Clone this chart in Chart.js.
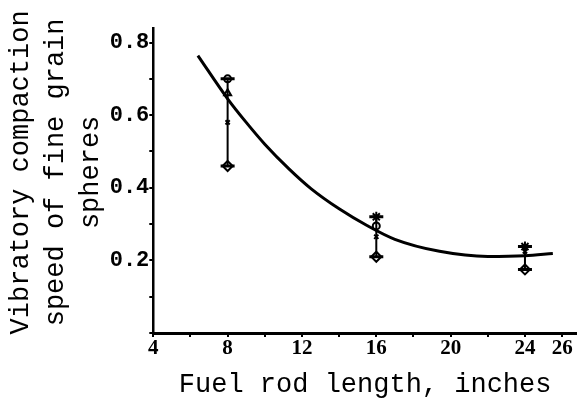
<!DOCTYPE html>
<html>
<head>
<meta charset="utf-8">
<script src="https://cdn.jsdelivr.net/npm/chart.js@4"></script>
<style>
  html, body { margin: 0; padding: 0; background: #fff; }
  #wrap { width: 577px; height: 401px; }
</style>
</head>
<body>
<div id="wrap"><canvas id="c" width="577" height="401"></canvas></div>
<script>
// Fitted curve
const curveX = [6.4, 8, 9, 10, 11.3, 12.5, 14, 15.5, 17, 19.4, 22, 24, 25.5];
const curveY = [0.764, 0.645, 0.58, 0.52, 0.452, 0.397, 0.342, 0.296, 0.258, 0.225, 0.211, 0.213, 0.219];

// Measured points
const barX    = [8, 16, 24];
const barLow  = [0.46, 0.21, 0.175];
const barHigh = [0.70, 0.32, 0.238];

const circleX = [8, 16];
const circleY = [0.70, 0.295];
const triX = [8];
const triY = [0.66];
const starX = [16, 24];
const starY = [0.32, 0.238];
const crossX = [8, 16, 24];
const crossY = [0.58, 0.265, 0.225];
const diamondX = [8, 16, 24];
const diamondY = [0.46, 0.21, 0.175];

const xLabels = [4, 8, 12, 16, 20, 24, 26];
const yLabels = [0.2, 0.4, 0.6, 0.8];

const pts = (xs, ys) => xs.map((x, i) => ({x: x, y: ys[i]}));

const markerBase = {
  type: 'scatter', showLine: false, borderColor: '#000', backgroundColor: '#fff',
  borderWidth: 2, pointRadius: 4
};

const datasets = [];
barX.forEach((x, i) => {
  datasets.push({
    type: 'line', data: [{x: x, y: barLow[i]}, {x: x, y: barHigh[i]}],
    borderColor: '#000', borderWidth: 2, pointRadius: 0, fill: false
  });
});
datasets.push({
  type: 'line', data: pts(curveX, curveY), borderColor: '#000', borderWidth: 3,
  pointRadius: 0, cubicInterpolationMode: 'monotone', fill: false
});
// error bar caps
datasets.push(Object.assign({}, markerBase, {
  data: pts(barX, barHigh).concat(pts(barX, barLow)), pointStyle: 'line', pointRadius: 7, borderWidth: 3
}));
datasets.push(Object.assign({}, markerBase, {data: pts(circleX, circleY), pointStyle: 'circle', pointRadius: 3.5}));
datasets.push(Object.assign({}, markerBase, {data: pts(triX, triY), pointStyle: 'triangle'}));
datasets.push(Object.assign({}, markerBase, {data: pts(starX, starY), pointStyle: 'star', pointRadius: 5}));
datasets.push(Object.assign({}, markerBase, {data: pts(crossX, crossY), pointStyle: 'crossRot', pointRadius: 3}));
datasets.push(Object.assign({}, markerBase, {data: pts(diamondX, diamondY), pointStyle: 'rectRot', pointRadius: 5}));

new Chart(document.getElementById('c'), {
  type: 'scatter',
  data: { datasets: datasets },
  options: {
    responsive: false,
    animation: false,
    layout: { autoPadding: false, padding: { top: 28, right: 0, bottom: 0, left: 4 } },
    plugins: { legend: { display: false }, tooltip: { enabled: false } },
    scales: {
      x: {
        type: 'linear', min: 4, max: 26.8,
        border: { display: true, color: '#000', width: 3 },
        grid: { display: true, drawOnChartArea: false, color: '#000', tickLength: 4, lineWidth: 2 },
        ticks: {
          stepSize: 2, includeBounds: false, autoSkip: false, maxRotation: 0,
          color: '#000', padding: -1,
          font: { family: 'Liberation Serif', size: 21, weight: 'bold' },
          callback: (v) => xLabels.includes(v) ? String(v) : ''
        },
        title: {
          display: true, text: 'Fuel rod length, inches', color: '#000',
          font: { family: 'Liberation Mono', size: 27 }, padding: { top: 8.4, bottom: 0 }
        }
      },
      y: {
        type: 'linear', min: 0, max: 0.84,
        border: { display: true, color: '#000', width: 2.5 },
        grid: { display: true, drawOnChartArea: false, color: '#000', tickLength: 4, lineWidth: 2 },
        ticks: {
          stepSize: 0.1, includeBounds: false, autoSkip: false,
          color: '#000', padding: 0,
          font: { family: 'Liberation Mono', size: 22, weight: 'bold' },
          callback: (v) => yLabels.some(l => Math.abs(l - v) < 1e-6) ? v.toFixed(1) : ''
        },
        title: {
          display: true,
          text: [' Vibratory compaction', ' speed of fine grain', ' spheres'],
          color: '#000',
          font: { family: 'Liberation Mono', size: 27, lineHeight: 1.28 },
          padding: { top: 0, bottom: 2 }
        }
      }
    }
  }
});
</script>
</body>
</html>
